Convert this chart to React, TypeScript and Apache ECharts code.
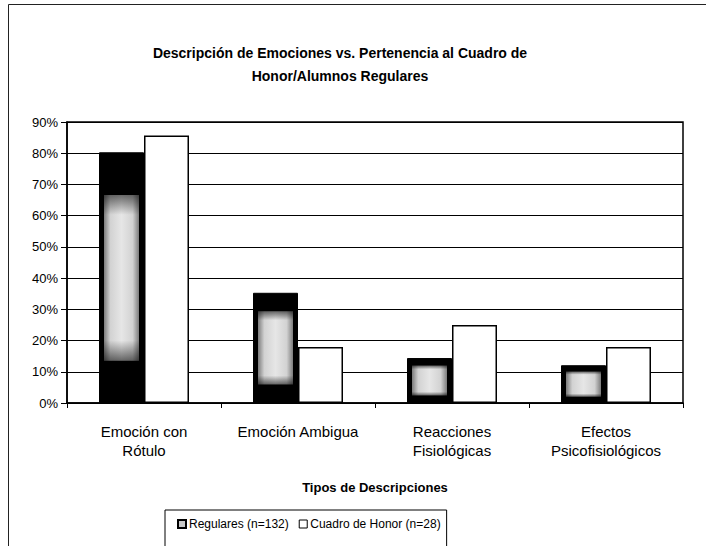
import React, { useEffect, useRef } from "react";
import * as echarts from "echarts";

const categories = [
  "Emoción con\nRótulo",
  "Emoción Ambigua",
  "Reacciones\nFisiológicas",
  "Efectos\nPsicofisiológicos",
];
const regulares = [80.3, 35.3, 14.4, 12.1];
const cuadroHonor = [85.7, 17.9, 25.0, 17.9];
const yTicks = [0, 10, 20, 30, 40, 50, 60, 70, 80, 90];
const seriesNames = ["Regulares (n=132)", "Cuadro de Honor (n=28)"];
const titleText = "Descripción de Emociones vs. Pertenencia al Cuadro de\nHonor/Alumnos Regulares";
const xAxisName = "Tipos de Descripciones";

const FONT = "'Liberation Sans', Arial, sans-serif";
const BAR_W = 45;

export default function App() {
  const ref = useRef<HTMLDivElement>(null);
  useEffect(() => {
    if (!ref.current) return;
    const chart = echarts.init(ref.current, null, { renderer: "svg" });
    const innerFill = new echarts.graphic.LinearGradient(0, 0, 1, 0, [
      { offset: 0, color: "#7c7c7c" },
      { offset: 0.18, color: "#d2d2d2" },
      { offset: 0.5, color: "#e6e6e6" },
      { offset: 0.82, color: "#d2d2d2" },
      { offset: 1, color: "#7c7c7c" },
    ]);
    const edgeFade = new echarts.graphic.LinearGradient(0, 0, 0, 1, [
      { offset: 0, color: "rgba(0,0,0,0.55)" },
      { offset: 0.12, color: "rgba(0,0,0,0)" },
      { offset: 0.88, color: "rgba(0,0,0,0)" },
      { offset: 1, color: "rgba(0,0,0,0.55)" },
    ]);
    chart.setOption({
      animation: false,
      backgroundColor: "#ffffff",
      textStyle: { fontFamily: FONT, color: "#000" },
      title: {
        text: titleText,
        left: 335,
        top: 36,
        textAlign: "center",
        textStyle: {
          fontFamily: FONT,
          fontSize: 14,
          fontWeight: "bold",
          color: "#000",
          lineHeight: 23,
        },
      },
      graphic: [
        {
          type: "rect",
          shape: { x: 8.5, y: 4.5, width: 720, height: 560 },
          style: { fill: "none", stroke: "#222", lineWidth: 1 },
          silent: true,
        },
      ],
      legend: {
        left: 165,
        top: 510,
        orient: "horizontal",
        itemWidth: 8,
        itemHeight: 8,
        itemGap: 10,
        padding: [8, 6, 20, 12],
        borderColor: "#000",
        borderWidth: 1,
        icon: "rect",
        textStyle: { fontFamily: FONT, fontSize: 12, color: "#000", padding: [0, 0, 0, -2] },
        data: [
          {
            name: seriesNames[0],
            itemStyle: { color: "#c8c8c8", borderColor: "#000", borderWidth: 2 },
          },
          {
            name: seriesNames[1],
            itemStyle: { color: "#fff", borderColor: "#000", borderWidth: 1 },
          },
        ],
      },
      grid: {
        left: 67,
        right: 23,
        top: 122,
        bottom: 143,
        containLabel: false,
        show: true,
        borderColor: "#000",
        borderWidth: 1.5,
        backgroundColor: "transparent",
      },
      xAxis: {
        type: "category",
        data: categories,
        name: xAxisName,
        nameLocation: "middle",
        nameGap: 78,
        nameTextStyle: { fontFamily: FONT, fontSize: 13, fontWeight: "bold", color: "#000" },
        axisLine: { lineStyle: { color: "#000", width: 1.5 } },
        axisTick: { show: true, length: 5, lineStyle: { color: "#000" } },
        axisLabel: {
          interval: 0,
          margin: 19,
          fontFamily: FONT,
          fontSize: 15,
          color: "#000",
          lineHeight: 19,
        },
      },
      yAxis: {
        type: "value",
        min: 0,
        max: 90,
        interval: 10,
        axisLine: { show: true, lineStyle: { color: "#000", width: 1.5 } },
        axisTick: { show: true, length: 6, lineStyle: { color: "#000" } },
        splitLine: { show: true, lineStyle: { color: "#000", width: 1 } },
        axisLabel: {
          formatter: (v: number) => (yTicks.includes(v) ? v + "%" : ""),
          fontFamily: FONT,
          fontSize: 13,
          color: "#000",
          margin: 9,
        },
      },
      series: [
        {
          name: seriesNames[0],
          type: "bar",
          data: regulares,
          barWidth: BAR_W,
          barGap: "0%",
          itemStyle: { color: "#000000", borderColor: "#000", borderWidth: 1 },
        },
        {
          name: seriesNames[1],
          type: "bar",
          data: cuadroHonor,
          barWidth: BAR_W,
          barGap: "0%",
          itemStyle: { color: "#ffffff", borderColor: "#000", borderWidth: 1.5 },
        },
        {
          name: "regularesShade",
          type: "custom",
          silent: true,
          z: 5,
          data: regulares.map((v, i) => [i, v]),
          renderItem: (params: any, api: any) => {
            const idx = api.value(0);
            const v = api.value(1);
            const topPt = api.coord([idx, v]);
            const basePt = api.coord([idx, 0]);
            const h = basePt[1] - topPt[1];
            const left = topPt[0] - BAR_W;
            const shape = {
              x: left + 5,
              y: topPt[1] + h * 0.17,
              width: BAR_W - 10,
              height: h * 0.66,
            };
            return {
              type: "group",
              children: [
                { type: "rect", shape, style: { fill: innerFill } },
                { type: "rect", shape, style: { fill: edgeFade } },
              ],
            };
          },
        },
      ],
    });
    return () => chart.dispose();
  }, []);
  return <div ref={ref} style={{ width: 706, height: 546, position: "absolute", left: 0, top: 0 }} />;
}
